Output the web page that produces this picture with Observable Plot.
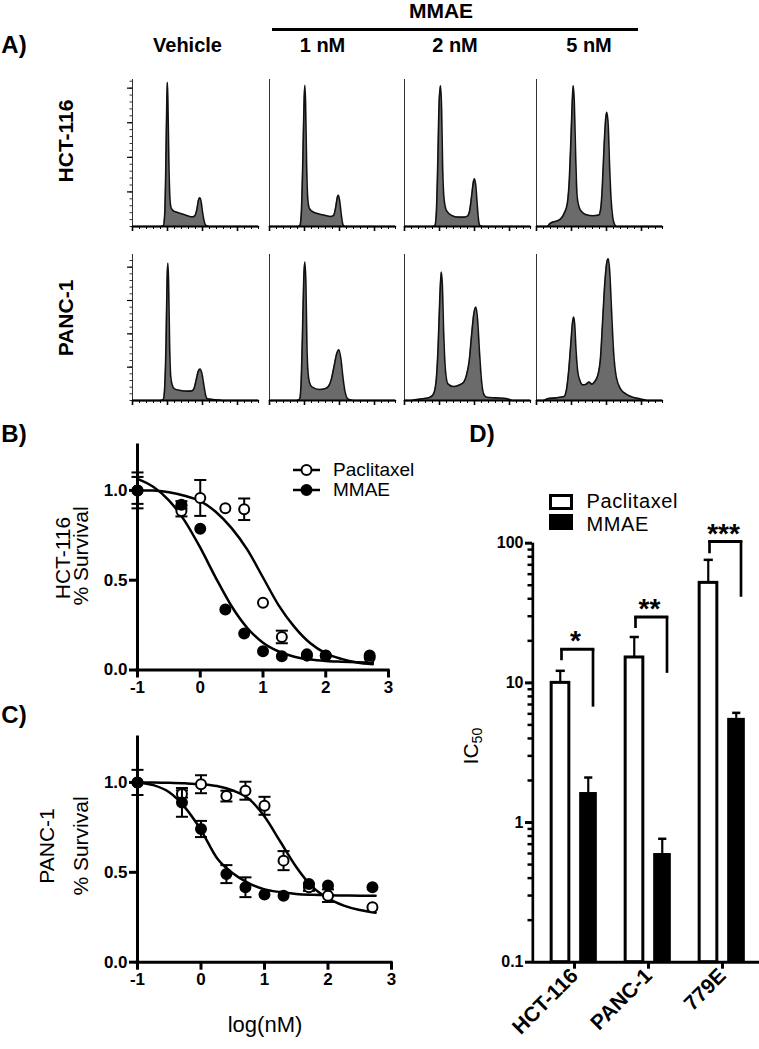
<!DOCTYPE html>
<html><head><meta charset="utf-8">
<script src="https://cdn.jsdelivr.net/npm/d3@7"></script>
<script src="https://cdn.jsdelivr.net/npm/@observablehq/plot@0.6"></script>
<style>
html,body{margin:0;padding:0;background:#fff;}
#fig{position:relative;width:759px;height:1049px;overflow:hidden;background:#fff;font-family:"Liberation Sans",Arial,Helvetica,sans-serif;color:#000;}
#fig .t{position:absolute;white-space:nowrap;line-height:1;}
#fig svg{position:absolute;}
</style></head><body><div id="fig"></div>
<script>
/* ================= DATA ================= */
// ---- Panel A: cell-cycle histograms (DNA content vs. count) ----
const A_COLUMNS = ["Vehicle", "1 nM", "2 nM", "5 nM"];
const A_ROWS = ["HCT-116", "PANC-1"];
const A_GROUP_LABEL = "MMAE";
const HIST_MAJOR_TICKS = [0, 1, 2, 3];
const HIST_Y_MAJOR_TICKS = [1, 2, 3, 4];

const HCT116_VEHICLE = [[0,0],[0.8,0],[0.88,0.02],[0.92,0.35],[0.95,1.6],[0.98,3.6],[0.995,4.17],[1.01,3.7],[1.04,1.8],[1.07,0.8],[1.1,0.55],[1.16,0.46],[1.25,0.42],[1.4,0.37],[1.55,0.32],[1.7,0.28],[1.78,0.31],[1.84,0.5],[1.88,0.74],[1.92,0.83],[1.96,0.72],[2.0,0.42],[2.05,0.14],[2.1,0.03],[2.2,0],[3.6,0]];
const HCT116_1NM = [[0,0],[0.82,0],[0.87,0.03],[0.91,0.4],[0.95,1.8],[0.99,3.7],[1.01,4.08],[1.03,3.6],[1.06,1.8],[1.09,0.85],[1.13,0.55],[1.2,0.45],[1.35,0.38],[1.55,0.33],[1.75,0.29],[1.83,0.32],[1.89,0.55],[1.94,0.85],[1.97,0.9],[2.01,0.7],[2.05,0.35],[2.09,0.08],[2.13,0.01],[2.2,0],[3.6,0]];
const HCT116_2NM = [[0,0],[0.8,0],[0.87,0.03],[0.91,0.4],[0.95,1.8],[0.99,3.6],[1.03,4.07],[1.06,3.4],[1.09,1.7],[1.13,0.8],[1.2,0.46],[1.35,0.32],[1.53,0.27],[1.7,0.27],[1.8,0.3],[1.86,0.45],[1.92,0.9],[1.97,1.3],[2.0,1.38],[2.04,1.15],[2.08,0.6],[2.12,0.15],[2.16,0.02],[2.25,0],[3.6,0]];
const HCT116_5NM = [[0,0],[0.3,0],[0.38,0.08],[0.45,0.12],[0.55,0.15],[0.69,0.22],[0.8,0.4],[0.88,0.66],[0.94,1.4],[0.99,2.7],[1.03,3.8],[1.05,4.07],[1.08,3.6],[1.12,2.0],[1.16,0.87],[1.22,0.55],[1.3,0.42],[1.45,0.33],[1.6,0.31],[1.78,0.33],[1.84,0.55],[1.88,1.14],[1.93,2.3],[1.98,3.15],[2.01,3.3],[2.05,2.9],[2.09,1.7],[2.13,0.8],[2.18,0.25],[2.23,0.06],[2.28,0],[3.6,0]];
const PANC1_VEHICLE = [[0,0],[0.8,0],[0.88,0.03],[0.92,0.4],[0.96,1.8],[0.99,3.7],[1.01,4.12],[1.03,3.6],[1.06,1.7],[1.09,0.75],[1.13,0.48],[1.2,0.35],[1.37,0.3],[1.55,0.28],[1.7,0.29],[1.77,0.4],[1.82,0.62],[1.88,0.88],[1.93,0.94],[1.98,0.82],[2.04,0.45],[2.09,0.15],[2.14,0.05],[2.3,0.03],[2.5,0.01],[2.6,0],[3.6,0]];
const PANC1_1NM = [[0,0],[0.78,0],[0.86,0.04],[0.9,0.45],[0.94,1.9],[0.98,3.7],[1.01,4.15],[1.04,3.5],[1.07,1.6],[1.1,0.85],[1.14,0.55],[1.22,0.4],[1.43,0.33],[1.6,0.36],[1.7,0.45],[1.77,0.65],[1.84,1.0],[1.92,1.4],[1.98,1.52],[2.04,1.25],[2.1,0.68],[2.16,0.25],[2.22,0.07],[2.3,0.02],[2.4,0],[3.6,0]];
const PANC1_2NM = [[0,0],[0.2,0],[0.3,0.02],[0.5,0.05],[0.73,0.1],[0.83,0.2],[0.9,0.55],[0.96,1.6],[1.01,3.1],[1.05,3.85],[1.08,3.5],[1.12,2.0],[1.17,0.9],[1.24,0.5],[1.4,0.42],[1.55,0.46],[1.69,0.55],[1.78,0.8],[1.85,1.2],[1.92,2.0],[1.98,2.6],[2.04,2.8],[2.09,2.4],[2.14,1.5],[2.2,0.6],[2.26,0.2],[2.35,0.1],[2.6,0.08],[2.9,0.06],[3.05,0.01],[3.15,0],[3.6,0]];
const PANC1_5NM = [[0,0],[0.2,0],[0.31,0.05],[0.55,0.08],[0.79,0.12],[0.86,0.35],[0.92,0.9],[0.98,1.7],[1.03,2.35],[1.06,2.5],[1.09,2.3],[1.13,1.5],[1.18,0.85],[1.24,0.6],[1.32,0.47],[1.4,0.48],[1.5,0.55],[1.58,0.49],[1.65,0.55],[1.75,0.75],[1.83,1.3],[1.89,2.4],[1.95,3.5],[2.01,4.15],[2.05,4.25],[2.09,3.9],[2.14,2.8],[2.2,1.5],[2.28,0.7],[2.4,0.35],[2.55,0.2],[2.75,0.1],[2.95,0.05],[3.08,0.02],[3.15,0],[3.6,0]];

// ---- Panels B, C: dose response ----
const LOG_DOSE = [-1, -0.3, 0, 0.4, 0.7, 1, 1.3, 1.7, 2, 2.7];
const HCT_PAC_MEAN  = [1.0, 0.885, 0.958, 0.90, 0.895, 0.374, 0.184, 0.08, 0.08, 0.07];
const HCT_PAC_SEM   = [0.10, 0.03, 0.10, 0, 0.06, 0, 0.035, 0, 0, 0];
const HCT_MMAE_MEAN = [1.0, 0.92, 0.787, 0.337, 0.203, 0.105, 0.076, 0.087, 0.081, 0.081];
const HCT_MMAE_SEM  = [0.075, 0.02, 0, 0, 0, 0, 0, 0, 0, 0];
const PANC_PAC_MEAN  = [1.0, 0.936, 0.99, 0.924, 0.954, 0.87, 0.565, 0.417, 0.37, 0.305];
const PANC_PAC_SEM   = [0.07, 0.02, 0.05, 0.03, 0.05, 0.05, 0.053, 0.02, 0.035, 0];
const PANC_MMAE_MEAN = [1.0, 0.889, 0.741, 0.49, 0.417, 0.376, 0.37, 0.435, 0.426, 0.417];
const PANC_MMAE_SEM  = [0, 0.08, 0.045, 0.05, 0.055, 0, 0, 0, 0, 0];
// fitted curves
const FIT_X = [-1, -0.75, -0.5, -0.25, 0, 0.25, 0.5, 0.75, 1, 1.25, 1.5, 1.75, 2, 2.25, 2.5, 2.75];
const HCT_PAC_FIT  = [1.0, 1.0, 0.99, 0.97, 0.94, 0.88, 0.79, 0.67, 0.515, 0.36, 0.24, 0.15, 0.093, 0.062, 0.042, 0.032];
const HCT_MMAE_FIT = [1.064, 1.02, 0.945, 0.832, 0.681, 0.512, 0.355, 0.234, 0.152, 0.103, 0.074, 0.058, 0.05, 0.046, 0.043, 0.041];
const PANC_PAC_FIT  = [1.0, 1.0, 0.998, 0.995, 0.99, 0.98, 0.955, 0.91, 0.81, 0.67, 0.53, 0.42, 0.355, 0.315, 0.29, 0.275];
const PANC_MMAE_FIT = [1.0, 0.985, 0.945, 0.86, 0.735, 0.58, 0.495, 0.44, 0.405, 0.39, 0.38, 0.375, 0.372, 0.371, 0.37, 0.37];
const SURV_X_TICKS = [-1, 0, 1, 2, 3];
const SURV_Y_TICKS = [0, 0.5, 1.0];
const SURV_LEGEND = ["Paclitaxel", "MMAE"];

// ---- Panel D: IC50 ----
const CELLS = ["HCT-116", "PANC-1", "779E"];
const IC50_PACLITAXEL = [10.0, 15.2, 52];
const IC50_PACLITAXEL_UPPER = [12.2, 21.3, 76];
const IC50_MMAE = [1.64, 0.60, 5.57];
const IC50_MMAE_UPPER = [2.1, 0.765, 6.1];
const SIG_LABEL = ["*", "**", "***"];
const SIG_LABEL_Y = [22.5, 37.9, 131.6];
const BRACKET_TOP = [17.4, 29.6, 103];
const BRACKET_LEFT_END = [14.4, 24.5, 84];
const BRACKET_RIGHT_END = [6.7, 11.7, 41];
const D_Y_TICKS = [0.1, 1, 10, 100];
const D_LEGEND = ["Paclitaxel", "MMAE"];

/* ================= LAYOUT ================= */
const FONT = '"Liberation Sans", Arial, Helvetica, sans-serif';
const fig = document.getElementById("fig");
function put(el, left, top) { el.style.position = "absolute"; el.style.left = left + "px"; el.style.top = top + "px"; fig.appendChild(el); return el; }
function label(html, x, y, {size = 16, weight = "bold", rotate = false, anchor = "middle", lh = 1, ls = 0} = {}) {
  const d = document.createElement("div");
  d.className = "t"; d.innerHTML = html;
  d.style.fontSize = size + "px"; d.style.fontWeight = weight; d.style.lineHeight = lh;
  if (ls) d.style.letterSpacing = ls + "px";
  d.style.left = x + "px"; d.style.top = y + "px";
  d.style.transform = `translate(${anchor === "start" ? "0" : "-50%"},-50%)` + (rotate ? " rotate(-90deg)" : "");
  fig.appendChild(d); return d;
}

/* ---- Panel A ---- */
const HIST_X_DOMAIN = [0, 3.6];
const HIST_Y_DOMAIN = [[0, 4.25], [0, 4.38]];
const HIST_MINOR_X = d3.range(0, 3.61, 0.2);
const A_COL_X = [132, 269, 404, 536];
const A_ROW_TOP = [79, 254];
const A_ROW_H = [147, 146];
const A_W = 126;
const A_TRACES = [[HCT116_VEHICLE, HCT116_1NM, HCT116_2NM, HCT116_5NM], [PANC1_VEHICLE, PANC1_1NM, PANC1_2NM, PANC1_5NM]];

function histogram(trace, col, row) {
  const ml = 8, mr = 3, mt = 2, mb = 8;
  const minorY = d3.range(0, HIST_Y_DOMAIN[row][1], 0.2);
  const svg = Plot.plot({
    width: ml + A_W + mr, height: mt + A_ROW_H[row] + mb,
    marginLeft: ml, marginRight: mr, marginTop: mt, marginBottom: mb,
    style: {background: "transparent", overflow: "visible"},
    x: {domain: HIST_X_DOMAIN, axis: null}, y: {domain: HIST_Y_DOMAIN[row], axis: null},
    marks: [
      Plot.areaY(trace, {x: d => d[0], y: d => d[1], fill: "#6b6b6b", curve: "monotone-x"}),
      Plot.lineY(trace, {x: d => d[0], y: d => d[1], stroke: "#111", strokeWidth: 1.6, curve: "monotone-x"}),
      Plot.ruleX([HIST_X_DOMAIN[0]], {stroke: "#333", strokeWidth: 1}),
      Plot.ruleY([0], {stroke: "#000", strokeWidth: 1.8}),
      Plot.axisX({ticks: HIST_MAJOR_TICKS, tickSize: 5, strokeWidth: 1.6, tickFormat: () => "", label: null}),
      Plot.axisX({ticks: HIST_MINOR_X, tickSize: 3, strokeWidth: 1, tickFormat: () => "", label: null}),
      col === 0 ? Plot.axisY({ticks: HIST_Y_MAJOR_TICKS, tickSize: 5, strokeWidth: 1.2, tickFormat: () => "", label: null}) : null,
      col === 0 ? Plot.axisY({ticks: minorY, tickSize: 2.5, strokeWidth: 0.8, tickFormat: () => "", label: null}) : null
    ].filter(Boolean)
  });
  put(svg, A_COL_X[col] - ml, A_ROW_TOP[row] - mt);
}
A_TRACES.forEach((row, r) => row.forEach((tr, c) => histogram(tr, c, r)));

label("A)", 14, 45, {size: 24});
label(A_GROUP_LABEL, 441, 10, {size: 21});
const bar = document.createElement("div");
bar.style.cssText = "width:366px;height:3px;background:#000;";
put(bar, 272, 27.5);
const A_HEAD_X = [187.5, 322.5, 455, 589];
A_COLUMNS.forEach((t, i) => label(t, A_HEAD_X[i], 45, {size: 20}));
const A_ROW_Y = [140.5, 317.5];
A_ROWS.forEach((t, i) => label(t, 64.5, A_ROW_Y[i], {size: 21, rotate: true}));

/* ---- Panels B, C ---- */
const SURV_X_DOMAIN = [-1, 3];
const SURV_Y_DOMAIN = [0, 1.25];
const capSymbol = {draw(ctx, size) { const w = Math.sqrt(size); ctx.moveTo(-w, 0); ctx.lineTo(w, 0); }};

function survival({pacMean, pacSem, mmaeMean, mmaeSem, pacFit, mmaeFit, top, plotH, xEnd}) {
  const pts = (mean, sem) => LOG_DOSE.map((x, i) => ({x, y: mean[i], lo: mean[i] - sem[i], hi: mean[i] + sem[i], sem: sem[i]}));
  const fit = ys => FIT_X.map((x, i) => ({x, y: ys[i]}));
  const pac = pts(pacMean, pacSem), mmae = pts(mmaeMean, mmaeSem);
  const ml = 137, mr = 15, mt = 5, mb = 36;
  const errMarks = (data) => {
    const e = data.filter(d => d.sem > 0);
    return [
      Plot.ruleX(e, {x: "x", y1: "lo", y2: "hi", stroke: "#000", strokeWidth: 2}),
      Plot.dot(e, {x: "x", y: "hi", symbol: capSymbol, r: 3.4, stroke: "#000", strokeWidth: 2, fill: "none"}),
      Plot.dot(e, {x: "x", y: "lo", symbol: capSymbol, r: 3.4, stroke: "#000", strokeWidth: 2, fill: "none"})
    ];
  };
  const svg = Plot.plot({
    width: xEnd + mr, height: mt + plotH + mb,
    marginLeft: ml, marginRight: mr, marginTop: mt, marginBottom: mb,
    style: {background: "transparent", overflow: "visible", fontFamily: FONT, fontSize: "17px", fontWeight: "bold"},
    x: {domain: SURV_X_DOMAIN}, y: {domain: SURV_Y_DOMAIN},
    marks: [
      Plot.axisX({ticks: SURV_X_TICKS, tickSize: 8, tickPadding: 3, strokeWidth: 3, tickFormat: d => String(d), label: null}),
      Plot.axisY({ticks: SURV_Y_TICKS, tickSize: 8, tickPadding: 2, strokeWidth: 3, tickFormat: d => d.toFixed(1), label: null}),
      Plot.ruleY([SURV_Y_DOMAIN[0]], {stroke: "#000", strokeWidth: 3, strokeLinecap: "square"}),
      Plot.ruleX([SURV_X_DOMAIN[0]], {stroke: "#000", strokeWidth: 3, strokeLinecap: "square"}),
      Plot.lineY(fit(pacFit), {x: "x", y: "y", stroke: "#000", strokeWidth: 2.5, curve: "monotone-x"}),
      Plot.lineY(fit(mmaeFit), {x: "x", y: "y", stroke: "#000", strokeWidth: 2.5, curve: "monotone-x"}),
      ...errMarks(pac),
      Plot.dot(pac, {x: "x", y: "y", r: 5, fill: "#fff", stroke: "#000", strokeWidth: 2}),
      ...errMarks(mmae),
      Plot.dot(mmae, {x: "x", y: "y", r: 5, fill: "#000", stroke: "#000", strokeWidth: 2})
    ]
  });
  put(svg, 0, top - mt);
}
survival({pacMean: HCT_PAC_MEAN, pacSem: HCT_PAC_SEM, mmaeMean: HCT_MMAE_MEAN, mmaeSem: HCT_MMAE_SEM,
  pacFit: HCT_PAC_FIT, mmaeFit: HCT_MMAE_FIT, top: 445, plotH: 224.5, xEnd: 388});
survival({pacMean: PANC_PAC_MEAN, pacSem: PANC_PAC_SEM, mmaeMean: PANC_MMAE_MEAN, mmaeSem: PANC_MMAE_SEM,
  pacFit: PANC_PAC_FIT, mmaeFit: PANC_MMAE_FIT, top: 737, plotH: 224.7, xEnd: 391});

label("B)", 14, 434, {size: 24});
label("C)", 14, 715, {size: 24});
label("HCT-116", 63, 558, {size: 21, weight: "normal", rotate: true, lh: 0.8});
label("% Survival", 81, 556, {size: 21, weight: "normal", rotate: true, lh: 0.8});
label("PANC-1", 47, 846, {size: 21, weight: "normal", rotate: true, lh: 0.8});
label("% Survival", 81, 846, {size: 21, weight: "normal", rotate: true, lh: 0.8});
label("log(nM)", 265, 1025, {size: 22, weight: "normal"});

// legend B
const B_LEG_Y = [470, 490];
SURV_LEGEND.forEach((t, i) => {
  const s = document.createElementNS("http://www.w3.org/2000/svg", "svg");
  s.setAttribute("width", 30); s.setAttribute("height", 14);
  s.innerHTML = `<line x1="1" y1="7" x2="28" y2="7" stroke="#000" stroke-width="2.5"/><circle cx="14.5" cy="7" r="5" fill="${i === 0 ? "#fff" : "#000"}" stroke="#000" stroke-width="2"/>`;
  put(s, 292, B_LEG_Y[i] - 7);
  label(t, 333, B_LEG_Y[i], {size: 19, weight: "normal", anchor: "start", lh: 0.9});
});

/* ---- Panel D ---- */
const D_Y_DOMAIN = [0.1, 100];
const D_W = 379, D_H = 544, D_ML = 152, D_MR = 0, D_MT = 37.7, D_MB = 87.3, D_INSET = 4;
const STEP = (D_W - D_ML - D_MR - D_INSET) / CELLS.length;
const seg = (a, b) => ({insetLeft: STEP / 2 + a, insetRight: STEP / 2 - b});
const D_MINOR = [0.1, 1, 10].flatMap(d => [2, 3, 4, 5, 6, 7, 8, 9].map(k => +(d * k).toPrecision(3)));
const D_ROWS = CELLS.map((cell, i) => ({
  cell, pac: IC50_PACLITAXEL[i], pacUp: IC50_PACLITAXEL_UPPER[i], mmae: IC50_MMAE[i], mmaeUp: IC50_MMAE_UPPER[i],
  sig: SIG_LABEL[i], sigY: SIG_LABEL_Y[i], top: BRACKET_TOP[i], lEnd: BRACKET_LEFT_END[i], rEnd: BRACKET_RIGHT_END[i],
  floor: D_Y_DOMAIN[0]
}));
const dsvg = Plot.plot({
  width: D_W, height: D_H, marginLeft: D_ML, marginRight: D_MR, marginTop: D_MT, marginBottom: D_MB,
  style: {background: "transparent", overflow: "visible", fontFamily: FONT, fontSize: "16px", fontWeight: "bold"},
  x: {domain: CELLS, padding: 0, insetLeft: D_INSET},
  y: {type: "log", domain: D_Y_DOMAIN},
  marks: [
    Plot.axisY({ticks: D_MINOR, tickSize: 4.5, strokeWidth: 2.5, tickFormat: () => "", label: null}),
    Plot.axisY({ticks: D_Y_TICKS, tickSize: 7, tickPadding: 2, strokeWidth: 3, tickFormat: d3.format("~g"), label: null}),
    Plot.axisX({tickSize: 7, tickPadding: 3, strokeWidth: 3, tickRotate: -45, fontSize: "21px", fontWeight: "bold", label: null}),
    // y axis line
    Plot.barY([D_Y_DOMAIN], {x: () => CELLS[0], y1: d => d[0], y2: d => d[1], fill: "#000",
      insetLeft: -(D_INSET + 1.5), insetRight: STEP + D_INSET - 1.5}),
    // bars
    Plot.barY(D_ROWS, {x: "cell", y1: "floor", y2: "pac", fill: "#fff", stroke: "#000", strokeWidth: 3, ...seg(-23, -5)}),
    Plot.barY(D_ROWS, {x: "cell", y1: "floor", y2: "mmae", fill: "#000", ...seg(5, 23)}),
    // error bars (upper only)
    Plot.barY(D_ROWS, {x: "cell", y1: "pac", y2: "pacUp", fill: "#000", ...seg(-15, -12.5)}),
    Plot.tickY(D_ROWS, {x: "cell", y: "pacUp", stroke: "#000", strokeWidth: 2.5, ...seg(-18.5, -9)}),
    Plot.barY(D_ROWS, {x: "cell", y1: "mmae", y2: "mmaeUp", fill: "#000", ...seg(13, 15.5)}),
    Plot.tickY(D_ROWS, {x: "cell", y: "mmaeUp", stroke: "#000", strokeWidth: 2.5, ...seg(10, 18.5)}),
    // significance brackets
    Plot.barY(D_ROWS, {x: "cell", y1: "lEnd", y2: "top", fill: "#000", ...seg(-14, -11)}),
    Plot.barY(D_ROWS, {x: "cell", y1: "rEnd", y2: "top", fill: "#000", ...seg(17.5, 20.5)}),
    Plot.tickY(D_ROWS, {x: "cell", y: "top", stroke: "#000", strokeWidth: 3, ...seg(-14, 20.5)}),
    Plot.text(D_ROWS, {x: "cell", y: "sigY", text: "sig", dx: 1, dy: 7, fontSize: 28, fontWeight: "bold"}),
    // x axis line
    Plot.ruleY([D_Y_DOMAIN[0]], {stroke: "#000", strokeWidth: 3})
  ]
});
put(dsvg, 380, 505);

label("D)", 482, 434, {size: 24});
label("IC<sub style=\"font-size:0.68em;vertical-align:-0.25em;\">50</sub>", 472, 746, {size: 21, weight: "normal", rotate: true});
const D_LEG_Y = [500.5, 523.5];
D_LEGEND.forEach((t, i) => {
  const sq = document.createElement("div");
  sq.style.cssText = `box-sizing:border-box;width:24px;height:16px;border:3px solid #000;background:${i === 0 ? "#fff" : "#000"};`;
  put(sq, 548.5, (i === 0 ? 502 : 522) - 8);
  label(t, 586.5, D_LEG_Y[i], {size: 20, weight: "normal", anchor: "start", lh: 0.85, ls: 0.6});
});
</script></body></html>
